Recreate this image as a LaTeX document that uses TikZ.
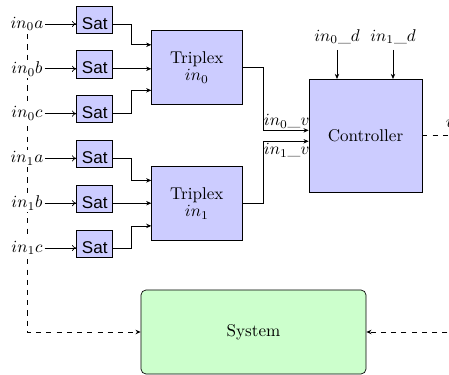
\documentclass[tikz,border=0pt]{standalone}
\usepackage{fontspec}
\setsansfont{Liberation Sans}
\usetikzlibrary{arrows.meta,backgrounds,calc}

\definecolor{blockblue}{HTML}{CCCCFF}
\definecolor{plantgreen}{HTML}{CCFFCC}

\tikzset{
  satbox/.style={draw, fill=blockblue, font=\sffamily, inner xsep=0pt, inner ysep=0pt,
    minimum width=21.1pt, text height=13.5pt, text depth=2.4pt, anchor=base},
  voterbox/.style={draw, fill=blockblue, align=center, minimum width=53pt, minimum height=43.4pt},
  ctrlbox/.style={draw, fill=blockblue, minimum width=66.3pt, minimum height=66.3pt},
  plantbox/.style={draw, fill=plantgreen, rounded corners=3pt, minimum width=132pt, minimum height=49.3pt},
  inlabel/.style={fill=white, inner sep=1pt},
  buslabel/.style={inner xsep=0.2pt, inner ysep=1pt},
  sigarrow/.style={-{To[length=2.6pt,width=3.6pt]}},
  feedarrow/.style={-{Stealth[length=3pt,width=2.6pt]}},
  fbline/.style={dashed, -{Stealth[length=3pt,width=2.6pt]}},
}

\begin{document}
\begin{tikzpicture}[x=0.5865pt, y=-0.5865pt]
  \clip (0,0) rectangle (449,375);

  % sensor inputs and saturation blocks
  \foreach \g/\a/\b/\c in {0/24/68.8/113.6, 1/158.4/203.2/248} {
    \node[inlabel] (i\g a) at (27,\a) {$in_{\g}a$};
    \node[inlabel] (i\g b) at (27,\b) {$in_{\g}b$};
    \node[inlabel] (i\g c) at (27,\c) {$in_{\g}c$};
    \node[satbox] (s\g a) at (94.7,\a+5) {Sat};
    \node[satbox] (s\g b) at (94.7,\b+5) {Sat};
    \node[satbox] (s\g c) at (94.7,\c+5) {Sat};
    \foreach \r in {a,b,c}
      \draw[sigarrow] (i\g\r) -- (i\g\r -| s\g\r.west);
  }

  % triplex voters
  \node[voterbox] (t0) at (196.8,67.8) {Triplex\\[-2pt]$in_0$};
  \node[voterbox] (t1) at (196.8,203.4) {Triplex\\[-2pt]$in_1$};

  \coordinate (elbow) at (131.7,0);
  \foreach \g in {0,1} {
    \coordinate (t\g up) at ([yshift=13.5pt]t\g.west);
    \coordinate (t\g dn) at ([yshift=-13.2pt]t\g.west);
    \draw[feedarrow] (s\g a.east |- i\g a) -| (elbow |- t\g up) -- (t\g up);
    \draw[feedarrow] (s\g b.east |- i\g b) -- (t\g.west |- i\g b);
    \draw[feedarrow] (s\g c.east |- i\g c) -| (elbow |- t\g dn) -- (t\g dn);
  }

  % controller
  \node[ctrlbox] (ctrl) at (365.5,135.8) {Controller};
  \coordinate (c0in) at ([yshift=3.2pt]ctrl.west);
  \coordinate (c1in) at ([yshift=-3.2pt]ctrl.west);
  \coordinate (bus) at (263.3,0);

  \draw[feedarrow] (t0.east) -| (bus |- c0in) -- (c0in);
  \draw[feedarrow] (t1.east) -| (bus |- c1in) -- (c1in);
  \node[buslabel, anchor=south west] (v0) at (bus |- c0in) {$in_0\_v$};
  \node[buslabel, anchor=north west] (v1) at (bus |- c1in) {$in_1\_v$};

  \node (d0) at (337,36.6) {$in_0\_d$};
  \node (d1) at (393,36.6) {$in_1\_d$};
  \draw[feedarrow] (d0) -- (d0 |- ctrl.north);
  \draw[feedarrow] (d1) -- (d1 |- ctrl.north);

  % plant
  \node[plantbox] (sys) at (253.5,332) {System};

  % control output back to the plant
  \coordinate (rx) at (480,0);
  \draw[fbline] (ctrl.east) -- (rx |- ctrl.east) |- (sys.east);
  \node[anchor=base west, inner sep=0pt] (vout) at (445.5,127.5) {$v$};

  % measurement feedback to the sensor inputs
  \begin{pgfonlayer}{background}
    \draw[fbline] (i0a.center) -- (i0a |- sys.west) -- (sys.west);
  \end{pgfonlayer}
\end{tikzpicture}
\end{document}
